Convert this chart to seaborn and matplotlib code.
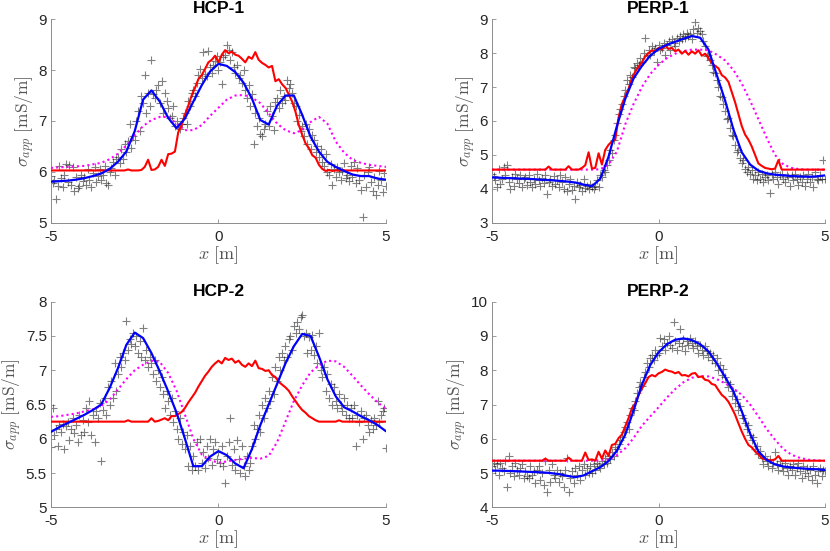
import numpy as np
import pandas as pd
import matplotlib
matplotlib.use("Agg")
import matplotlib.pyplot as plt
import seaborn as sns

# sampling positions along the profile [m]
x_obs = np.round(np.linspace(-5, 5, 201), 2)   # measured points
x_ref = np.round(np.linspace(-5, 5, 101), 2)   # red curve
x_fit = np.round(np.linspace(-5, 5, 41), 2)    # blue and magenta curves

# ---------------- HCP-1 ----------------
hcp1_obs = [
    5.92, 5.78, 5.85, 5.48, 5.72, 6.12, 5.88, 5.70, 5.95, 6.15, 5.80, 6.14, 5.75, 6.10, 5.62, 5.90, 5.68, 5.72, 5.95, 5.82,
    5.90, 5.75, 6.05, 5.85, 5.70, 5.98, 6.10, 5.80, 5.92, 6.05, 5.85, 5.95, 6.12, 5.78, 5.74, 6.00, 6.08, 6.20, 5.95, 6.25,
    6.30, 6.18, 6.45, 6.25, 6.55, 6.40, 6.60, 6.95, 6.48, 6.70, 6.62, 7.00, 7.20, 6.80, 7.50, 7.35, 7.90, 7.15, 7.55, 7.30,
    8.20, 7.52, 7.45, 7.60, 7.70, 7.35, 7.78, 7.15, 7.55, 7.40, 7.25, 7.05, 7.10, 7.30, 6.90, 7.00, 6.88, 6.85, 6.95, 7.05,
    7.15, 6.95, 7.40, 7.30, 7.55, 7.60, 7.50, 7.75, 7.90, 8.02, 7.85, 8.35, 7.92, 7.88, 8.38, 8.05, 7.95, 8.10, 8.18, 8.28,
    8.00, 8.15, 7.72, 8.25, 8.30, 8.50, 8.40, 8.20, 8.35, 8.05, 7.95, 8.10, 7.85, 7.90, 7.75, 8.00, 7.60, 7.45, 7.70, 7.30,
    7.52, 6.55, 7.15, 6.90, 7.05, 6.75, 6.70, 6.85, 6.95, 7.20, 6.90, 7.30, 7.10, 6.82, 7.38, 7.45, 7.25, 7.60, 7.35, 7.50,
    7.42, 7.80, 7.65, 7.72, 7.55, 7.35, 7.30, 7.00, 7.12, 6.80, 6.90, 6.70, 6.95, 6.55, 6.85, 6.45, 6.72, 6.62, 6.40, 6.50,
    6.30, 6.45, 6.20, 6.12, 6.35, 6.00, 5.95, 6.15, 5.75, 6.05, 5.90, 6.10, 6.00, 5.85, 6.02, 6.18, 5.88, 5.95, 5.82, 6.12,
    5.90, 6.20, 5.78, 6.08, 5.85, 5.65, 5.12, 5.95, 5.70, 6.00, 6.10, 5.80, 5.62, 5.90, 5.55, 5.75, 6.02, 5.85, 5.60, 5.98,
    5.72,
]
hcp1_ref = [
    6.03, 6.03, 6.03, 6.03, 6.03, 6.03, 6.03, 6.03, 6.03, 6.03,
    6.03, 6.03, 6.03, 6.03, 6.03, 6.03, 6.03, 6.03, 6.03, 6.03,
    6.03, 6.03, 6.03, 6.05, 6.03, 6.03, 6.03, 6.04, 6.10, 6.24,
    6.04, 6.05, 6.10, 6.24, 6.12, 6.35, 6.36, 6.40, 6.78, 6.92,
    7.12, 7.30, 7.50, 7.65, 7.82, 7.90, 8.02, 8.15, 8.20, 8.28,
    8.15, 8.30, 8.39, 8.33, 8.36, 8.30, 8.28, 8.22, 8.15, 8.26,
    8.22, 8.35, 8.20, 8.14, 8.10, 8.05, 8.08, 7.78, 7.82, 7.72,
    7.65, 7.52, 7.38, 7.18, 6.92, 6.73, 6.56, 6.47, 6.33, 6.28,
    6.14, 6.06, 6.02, 6.04, 6.02, 6.03, 6.03, 6.04, 6.03, 6.03,
    6.03, 6.03, 6.03, 6.03, 6.03, 6.03, 6.03, 6.03, 6.03, 6.03,
    6.03,
]
hcp1_fit = [5.81, 5.82, 5.83, 5.85, 5.88, 5.92, 5.97, 6.06, 6.20, 6.40, 6.80, 7.42, 7.60, 7.38,
            7.06, 6.86, 7.05, 7.38, 7.70, 7.97, 8.12, 8.08, 7.96, 7.75, 7.44, 7.02, 6.93, 7.30,
            7.50, 7.50, 7.12, 6.69, 6.40, 6.20, 6.10, 6.02, 5.95, 5.92, 5.92, 5.87, 5.85]
hcp1_init = [6.08, 6.09, 6.10, 6.11, 6.12, 6.15, 6.18, 6.25, 6.36, 6.52, 6.72, 6.90, 7.02, 7.08,
             7.08, 6.95, 6.82, 6.82, 6.92, 7.10, 7.26, 7.42, 7.50, 7.51, 7.46, 7.35, 7.15, 6.95,
             6.82, 6.76, 6.82, 6.98, 7.08, 6.95, 6.60, 6.38, 6.24, 6.18, 6.14, 6.12, 6.10]

# ---------------- PERP-1 ----------------
perp1_obs = [
    4.45, 4.38, 4.25, 4.05, 4.60, 4.15, 4.30, 4.65, 4.40, 4.70, 4.22, 4.00, 4.35, 4.10, 4.45, 4.30, 4.18, 4.40, 4.05, 4.28,
    4.35, 4.12, 4.42, 4.20, 4.05, 4.30, 4.15, 4.45, 4.25, 4.08, 4.32, 4.18, 4.40, 3.85, 4.22, 4.30, 4.10, 4.38, 4.15, 4.25,
    4.05, 4.42, 4.20, 4.00, 4.35, 3.95, 4.15, 4.28, 3.98, 4.10, 3.70, 4.22, 4.05, 4.12, 3.95, 4.30, 4.02, 4.10, 4.00, 4.15,
    4.05, 4.00, 4.10, 4.25, 4.05, 4.40, 4.35, 4.55, 4.50, 4.70, 4.85, 5.15, 5.05, 5.45, 5.60, 5.95, 6.20, 6.35, 6.50, 6.75,
    6.90, 7.20, 7.10, 7.35, 7.30, 7.60, 7.55, 7.70, 7.65, 7.85, 7.75, 8.00, 8.45, 7.90, 8.10, 7.95, 8.20, 8.05, 8.15, 7.75,
    8.25, 8.10, 8.15, 8.30, 7.95, 8.25, 8.35, 8.10, 8.40, 8.30, 8.20, 8.45, 8.35, 8.50, 8.40, 8.55, 8.45, 8.60, 8.50, 8.55,
    8.40, 8.70, 8.90, 8.60, 8.75, 8.65, 8.55, 8.35, 8.20, 7.90, 7.95, 7.80, 7.65, 7.45, 7.40, 7.20, 7.00, 6.75, 6.72, 6.50,
    6.30, 6.05, 6.10, 5.80, 5.60, 5.55, 5.30, 5.10, 5.15, 4.90, 4.75, 4.85, 4.60, 4.50, 4.65, 4.45, 4.55, 4.30, 4.40, 4.25,
    4.50, 4.30, 4.45, 4.20, 4.35, 4.40, 4.25, 3.88, 4.45, 4.30, 4.50, 4.35, 4.15, 4.40, 4.45, 4.30, 4.20, 4.42, 4.35, 4.10,
    4.40, 4.25, 4.45, 4.30, 4.12, 4.35, 4.20, 4.40, 4.10, 4.30, 4.45, 4.20, 4.35, 4.05, 4.50, 4.30, 4.25, 4.40, 4.30, 4.85,
    4.30,
]
perp1_ref = [
    4.57, 4.57, 4.57, 4.57, 4.57, 4.57, 4.57, 4.57, 4.57, 4.57,
    4.57, 4.57, 4.57, 4.57, 4.57, 4.57, 4.57, 4.66, 4.57, 4.57,
    4.57, 4.57, 4.57, 4.67, 4.57, 4.57, 4.57, 4.62, 4.70, 5.08,
    4.60, 4.62, 5.05, 4.72, 5.15, 5.30, 5.40, 5.45, 6.10, 6.50,
    6.72, 6.95, 7.25, 7.45, 7.60, 7.72, 7.90, 8.00, 8.08, 8.05,
    8.15, 8.10, 8.22, 8.12, 8.15, 8.05, 8.10, 7.98, 8.06, 7.95,
    8.05, 7.98, 8.08, 7.92, 7.98, 7.85, 7.70, 7.62, 7.55, 7.35,
    7.28, 7.15, 6.85, 6.55, 6.20, 5.85, 5.60, 5.45, 5.25, 5.00,
    4.75, 4.68, 4.62, 4.60, 4.58, 4.60, 4.85, 4.57, 4.57, 4.57,
    4.57, 4.57, 4.57, 4.57, 4.57, 4.57, 4.57, 4.57, 4.57, 4.57,
    4.57,
]
perp1_fit = [4.34, 4.33, 4.32, 4.31, 4.30, 4.29, 4.27, 4.26, 4.24, 4.22, 4.19, 4.13, 4.08, 4.30,
             4.95, 5.85, 6.65, 7.25, 7.62, 7.92, 8.12, 8.24, 8.33, 8.42, 8.50, 8.45, 8.10, 7.35,
             6.60, 5.75, 5.08, 4.72, 4.54, 4.46, 4.42, 4.40, 4.38, 4.37, 4.36, 4.37, 4.40]
perp1_init = [4.57, 4.57, 4.57, 4.57, 4.57, 4.57, 4.57, 4.57, 4.57, 4.57, 4.57, 4.57, 4.57, 4.58,
              4.72, 5.10, 5.90, 6.50, 7.00, 7.38, 7.65, 7.85, 7.98, 8.06, 8.10, 8.10, 8.08, 7.95,
              7.78, 7.50, 7.10, 6.60, 6.05, 5.50, 5.00, 4.72, 4.62, 4.58, 4.57, 4.57, 4.57]

# ---------------- HCP-2 ----------------
hcp2_obs = [
    5.88, 6.45, 6.05, 6.15, 5.90, 6.20, 6.10, 6.22, 5.85, 6.18, 6.25, 5.98, 6.15, 6.30, 6.08, 6.20, 5.95, 6.35, 6.05, 6.28,
    6.10, 6.45, 6.25, 6.55, 6.05, 6.35, 5.95, 6.40, 6.30, 6.52, 5.67, 6.42, 6.60, 6.35, 6.75, 6.50, 6.85, 6.60, 7.10, 6.70,
    6.95, 7.20, 7.05, 7.25, 7.15, 7.72, 7.30, 7.45, 7.38, 7.55, 7.35, 7.50, 7.25, 7.42, 7.20, 7.62, 7.15, 7.30, 7.05, 7.20,
    7.10, 6.95, 7.15, 6.85, 7.00, 6.75, 6.90, 6.65, 6.45, 6.70, 6.55, 6.35, 6.60, 6.25, 6.40, 6.15, 6.00, 6.30, 5.92, 6.10,
    5.85, 6.05, 5.60, 5.90, 5.55, 5.75, 5.60, 5.95, 5.55, 6.00, 5.65, 5.80, 5.58, 5.90, 5.72, 6.00, 5.62, 5.85, 5.95, 5.70,
    5.80, 5.65, 5.90, 5.60, 5.35, 5.75, 5.95, 6.30, 5.62, 5.85, 5.55, 5.98, 5.70, 5.50, 5.90, 5.60, 5.45, 5.75, 5.55, 5.65,
    5.90, 6.20, 6.00, 6.15, 6.35, 6.10, 6.50, 6.30, 6.60, 6.45, 6.70, 6.55, 6.90, 6.65, 7.05, 6.85, 7.20, 7.00, 7.25, 7.15,
    7.35, 7.20, 7.45, 7.50, 7.30, 7.65, 7.55, 7.70, 7.60, 7.78, 7.80, 7.50, 7.55, 7.25, 7.48, 7.30, 7.52, 7.22, 7.35, 7.10,
    7.55, 7.00, 6.90, 7.05, 6.70, 6.95, 6.60, 6.80, 6.50, 6.75, 6.55, 6.45, 6.65, 6.50, 6.40, 6.60, 6.35, 6.50, 6.30, 6.45,
    6.30, 6.50, 5.90, 6.35, 6.25, 6.40, 6.00, 6.30, 6.35, 6.20, 6.10, 6.28, 6.15, 6.30, 6.20, 6.55, 6.25, 6.35, 6.40, 6.45,
    5.87,
]
hcp2_ref = [
    6.25, 6.25, 6.25, 6.25, 6.25, 6.25, 6.25, 6.25, 6.25, 6.25,
    6.25, 6.25, 6.25, 6.25, 6.25, 6.25, 6.25, 6.25, 6.25, 6.25,
    6.25, 6.25, 6.25, 6.27, 6.25, 6.25, 6.25, 6.25, 6.25, 6.25,
    6.30, 6.25, 6.26, 6.28, 6.30, 6.27, 6.33, 6.33, 6.36, 6.39,
    6.45, 6.53, 6.60, 6.67, 6.76, 6.84, 6.92, 6.98, 7.05, 7.10,
    7.14, 7.10, 7.18, 7.15, 7.17, 7.11, 7.14, 7.08, 7.05, 7.10,
    7.06, 7.14, 7.03, 7.02, 6.99, 7.00, 6.93, 6.90, 6.83, 6.79,
    6.75, 6.70, 6.62, 6.55, 6.48, 6.42, 6.38, 6.33, 6.30, 6.27,
    6.25, 6.25, 6.25, 6.25, 6.25, 6.25, 6.27, 6.25, 6.25, 6.25,
    6.25, 6.25, 6.25, 6.25, 6.25, 6.25, 6.25, 6.25, 6.25, 6.25,
    6.25,
]
hcp2_fit = [6.10, 6.17, 6.23, 6.29, 6.35, 6.42, 6.50, 6.74, 7.03, 7.37, 7.55, 7.47, 7.25, 6.98,
            6.69, 6.38, 6.00, 5.60, 5.60, 5.74, 5.82, 5.76, 5.64, 5.57, 5.85, 6.20, 6.50, 6.80,
            7.10, 7.35, 7.53, 7.50, 7.20, 6.87, 6.62, 6.46, 6.40, 6.33, 6.27, 6.20, 6.11]
hcp2_init = [6.32, 6.33, 6.35, 6.37, 6.40, 6.43, 6.48, 6.57, 6.72, 6.87, 7.00, 7.08, 7.14, 7.12,
             6.96, 6.70, 6.35, 6.00, 5.77, 5.69, 5.65, 5.67, 5.69, 5.71, 5.72, 5.71, 5.75, 5.95,
             6.25, 6.55, 6.78, 6.97, 7.07, 7.14, 7.13, 7.05, 6.92, 6.78, 6.65, 6.53, 6.44]

# ---------------- PERP-2 ----------------
perp2_obs = [
    5.20, 5.30, 5.10, 5.25, 4.95, 5.30, 5.15, 5.05, 5.35, 4.60, 5.50, 5.00, 5.20, 4.90, 5.30, 5.10, 4.95, 5.15, 5.25, 4.85,
    5.05, 4.90, 4.85, 5.20, 4.95, 5.05, 4.70, 5.10, 5.20, 4.80, 5.00, 4.65, 5.35, 4.45, 5.10, 4.75, 5.25, 4.95, 4.85, 5.10,
    4.75, 5.00, 4.90, 4.60, 5.10, 5.45, 4.45, 4.85, 5.05, 4.70, 5.15, 4.95, 5.20, 4.80, 5.10, 5.25, 4.95, 5.15, 5.00, 5.20,
    5.00, 5.25, 5.10, 5.30, 5.20, 5.15, 5.35, 5.25, 5.45, 5.30, 5.50, 5.40, 5.60, 5.50, 5.75, 5.70, 5.85, 5.95, 6.05, 6.20,
    6.35, 6.50, 6.30, 6.70, 6.90, 6.85, 7.10, 7.35, 7.50, 7.65, 7.55, 7.80, 7.95, 8.20, 8.10, 8.35, 8.45, 8.30, 8.60, 8.45,
    8.50, 8.95, 8.70, 8.90, 8.60, 8.80, 9.00, 8.75, 8.65, 9.40, 8.85, 8.60, 8.80, 9.20, 8.70, 8.90, 8.55, 8.85, 8.75, 8.95,
    8.80, 8.65, 8.85, 8.70, 8.50, 8.75, 8.60, 8.45, 8.70, 8.55, 8.40, 8.50, 8.30, 8.45, 8.20, 8.35, 8.00, 8.15, 7.85, 8.05,
    7.80, 7.65, 7.50, 7.60, 7.25, 7.40, 7.05, 7.15, 6.85, 6.95, 6.70, 6.60, 6.45, 6.30, 6.40, 6.10, 5.95, 6.05, 5.70, 5.80,
    5.55, 5.65, 5.45, 5.25, 5.50, 5.35, 5.20, 5.40, 5.15, 5.30, 5.60, 5.25, 5.10, 5.35, 5.20, 5.05, 5.30, 5.15, 4.95, 5.20,
    5.10, 5.25, 4.95, 5.15, 5.30, 5.05, 4.85, 5.20, 5.00, 5.15, 4.90, 5.10, 4.80, 5.20, 4.95, 4.70, 5.05, 5.15, 4.90, 5.10,
    5.05,
]
perp2_ref = [
    5.36, 5.36, 5.36, 5.36, 5.36, 5.36, 5.36, 5.36, 5.36, 5.36,
    5.36, 5.36, 5.36, 5.36, 5.36, 5.36, 5.42, 5.36, 5.36, 5.36,
    5.36, 5.36, 5.36, 5.45, 5.36, 5.36, 5.36, 5.36, 5.60, 5.38,
    5.40, 5.36, 5.62, 5.42, 5.66, 5.50, 5.82, 5.85, 6.02, 6.12,
    6.36, 6.60, 6.89, 7.03, 7.28, 7.47, 7.62, 7.80, 7.86, 7.82,
    7.91, 7.95, 8.02, 7.98, 7.96, 7.91, 7.95, 7.85, 7.86, 7.82,
    7.90, 7.92, 7.80, 7.82, 7.72, 7.70, 7.60, 7.57, 7.42, 7.28,
    7.20, 7.08, 6.90, 6.70, 6.45, 6.21, 6.00, 5.82, 5.75, 5.63,
    5.55, 5.43, 5.40, 5.38, 5.37, 5.40, 5.50, 5.36, 5.36, 5.36,
    5.36, 5.36, 5.36, 5.36, 5.36, 5.36, 5.36, 5.36, 5.36, 5.36,
    5.36,
]
perp2_fit = [5.07, 5.07, 5.06, 5.05, 5.04, 5.03, 5.02, 5.00, 4.97, 4.92, 4.88, 4.93, 5.05, 5.17,
             5.35, 5.65, 6.12, 6.82, 7.58, 8.15, 8.52, 8.76, 8.89, 8.93, 8.88, 8.76, 8.55, 8.20,
             7.80, 7.38, 6.80, 6.15, 5.63, 5.38, 5.25, 5.19, 5.16, 5.14, 5.12, 5.11, 5.09]
perp2_init = [5.36, 5.36, 5.36, 5.36, 5.36, 5.36, 5.36, 5.36, 5.36, 5.36, 5.36, 5.36, 5.36, 5.37,
              5.40, 5.52, 5.72, 6.02, 6.38, 6.65, 6.92, 7.20, 7.45, 7.65, 7.78, 7.83, 7.82, 7.74,
              7.62, 7.47, 7.28, 7.00, 6.65, 6.28, 5.97, 5.70, 5.53, 5.44, 5.39, 5.37, 5.36]

titles = ["HCP-1", "PERP-1", "HCP-2", "PERP-2"]
ylims = [(5, 9), (3, 9), (5, 8), (4, 10)]
yticks = [[5, 6, 7, 8, 9], [3, 4, 5, 6, 7, 8, 9], [5, 5.5, 6, 6.5, 7, 7.5, 8], [4, 5, 6, 7, 8, 9, 10]]

sns.set_theme(style="white")
plt.rcParams["font.family"] = ["Liberation Sans", "DejaVu Sans"]
plt.rcParams["mathtext.fontset"] = "cm"

fig = plt.figure(figsize=(8.3, 5.51), dpi=100)
posiciones = [
    [0.0614, 0.5953, 0.4036, 0.3702],
    [0.5928, 0.5953, 0.4012, 0.3702],
    [0.0614, 0.0793, 0.4036, 0.3731],
    [0.5928, 0.0793, 0.4012, 0.3731],
]

paneles = [
    (hcp1_obs, hcp1_ref, hcp1_fit, hcp1_init),
    (perp1_obs, perp1_ref, perp1_fit, perp1_init),
    (hcp2_obs, hcp2_ref, hcp2_fit, hcp2_init),
    (perp2_obs, perp2_ref, perp2_fit, perp2_init),
]

for i, (obs, ref, fit, init) in enumerate(paneles):
    ax = fig.add_axes(posiciones[i])
    df_obs = pd.DataFrame({"x": x_obs, "y": obs})
    df_ref = pd.DataFrame({"x": x_ref, "y": ref})
    df_fit = pd.DataFrame({"x": x_fit, "y": fit, "init": init})

    # measured data as gray crosses
    sns.scatterplot(data=df_obs, x="x", y="y", marker="+", color="black",
                    s=36, linewidth=0.8, alpha=0.5, ax=ax, zorder=2)
    # magenta dotted, red, then blue on top
    sns.lineplot(data=df_fit, x="x", y="init", color="#FF00FF", linewidth=1.5,
                 linestyle=(0, (1, 1.5)), estimator=None, sort=False, ax=ax, zorder=3)
    sns.lineplot(data=df_ref, x="x", y="y", color="#FF0000", linewidth=1.5,
                 estimator=None, sort=False, ax=ax, zorder=4)
    sns.lineplot(data=df_fit, x="x", y="y", color="#0000FF", linewidth=1.6,
                 estimator=None, sort=False, ax=ax, zorder=5)

    ax.set_xlim(-5, 5)
    ax.set_ylim(*ylims[i])
    ax.set_xticks([-5, 0, 5])
    ax.set_xticklabels(["-5", "0", "5"])
    ax.set_yticks(yticks[i])
    ax.set_yticklabels([f"{v:g}" for v in yticks[i]])

    for lado in ["top", "right"]:
        ax.spines[lado].set_visible(False)
    for lado in ["left", "bottom"]:
        ax.spines[lado].set_color("#8c8c8c")
        ax.spines[lado].set_linewidth(0.7)
    ax.tick_params(direction="in", length=3, width=0.6, color="#8c8c8c",
                   labelsize=11, labelcolor="#262626", left=True, bottom=True)
    ax.tick_params(axis="x", pad=5)
    ax.tick_params(axis="y", pad=3)

    ax.set_title(titles[i], fontsize=12.5, fontweight="bold", pad=4, color="black")
    ax.set_xlabel(r"$x\ [\mathrm{m}]$", fontsize=13, color="#555555", labelpad=0)
    ax.set_ylabel(r"$\sigma_{app}\ [\mathrm{mS/m}]$", fontsize=12.5, color="#555555", labelpad=1)
    ax.grid(False)

fig.savefig("out.png", dpi=100)
plt.close(fig)
